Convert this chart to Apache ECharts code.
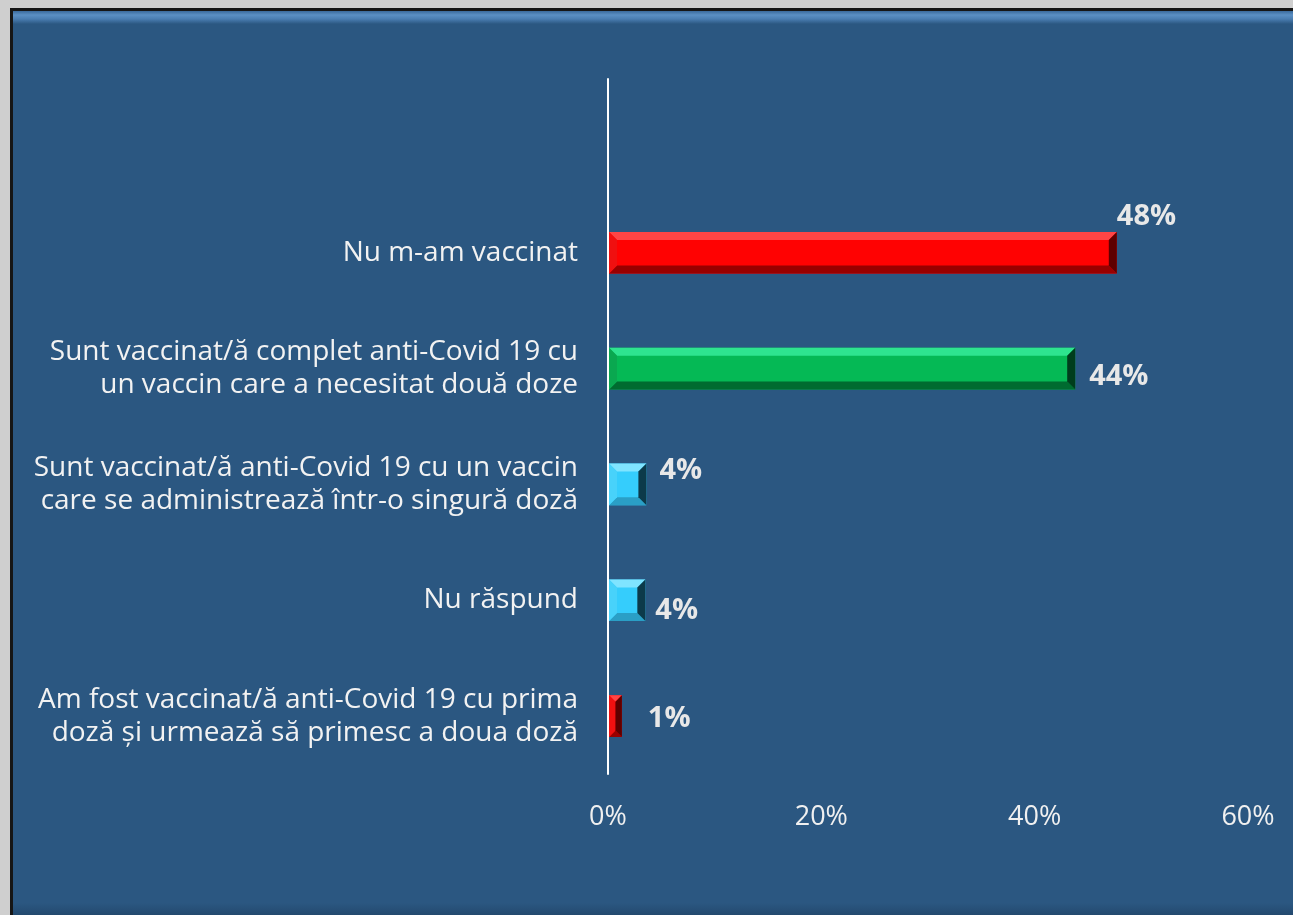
<!DOCTYPE html>
<html>
<head>
<meta charset="utf-8">
<script src="https://cdn.jsdelivr.net/npm/echarts@6/dist/echarts.min.js"></script>
<style>
  html, body { margin:0; padding:0; width:1293px; height:915px; overflow:hidden; background:#cfcfcf; }
  #panel { position:absolute; left:10px; top:8px; width:1280px; height:904px;
    border-left:3px solid #161616; border-top:3px solid #161616;
    background: linear-gradient(to bottom, #3a6a9c 0px, #5b8fc3 4px, #4a7db1 8px, #2b5781 13px, #2b5781 calc(100% - 12px), #23496e 100%);
  }
  #chart { position:absolute; left:0; top:0; width:1293px; height:915px; }
</style>
</head>
<body>
<div id="panel"></div>
<div id="chart"></div>
<script>
// Top-to-bottom order (first entry is the blank top row of the chart)
const categories = [
  "",
  "Nu m-am vaccinat",
  "Sunt vaccinat/ă complet anti-Covid 19 cu\nun vaccin care a necesitat două doze",
  "Sunt vaccinat/ă anti-Covid 19 cu un vaccin\ncare se administrează într-o singură doză",
  "Nu răspund",
  "Am fost vaccinat/ă anti-Covid 19 cu prima\ndoză și urmează să primesc a doua doză"
];
const values = [null, 47.7, 43.8, 3.6, 3.5, 1.3];
const barColorKeys = [null, "red", "green", "blue", "blue", "red"];
const xTicks = [0, 20, 40, 60];

// label nudges (pixels) relative to the bar end, per row
const labelOffsets = [null, [0, -36], [14, 8], [13, -14], [10, 10], [26, 3]];

const palettes = {
  red:   { face:"#ff0202", top:"#ff4545", bottom:"#990000", left:"#f01010", right:"#5e0000" },
  green: { face:"#05b955", top:"#2ee48f", bottom:"#006b30", left:"#0aa850", right:"#003d1c" },
  blue:  { face:"#35cdfc", top:"#80e4ff", bottom:"#2a9fc6", left:"#48d2fa", right:"#0c3a4a" }
};

const chart = echarts.init(document.getElementById('chart'), null, { renderer: 'canvas' });

const data = values.map((v, i) => (v == null ? null : [v, i]));

function renderItem(params, api) {
  const idx = params.dataIndex;
  const v = api.value(0);
  const c = api.value(1);
  if (v == null || isNaN(v)) return null;
  const p0 = api.coord([0, c]);
  const p1 = api.coord([v, c]);
  const band = api.size([0, 1])[1];
  const h = band * 0.36;
  const x0 = p0[0] + 1, x1 = p1[0];
  const y0 = p0[1] - h / 2, y1 = p0[1] + h / 2;
  const w = x1 - x0;
  const b = Math.min(8, w / 2, h / 2);
  const pal = palettes[barColorKeys[idx]];
  const off = labelOffsets[idx] || [8, 0];
  return {
    type: 'group',
    children: [
      { type: 'rect', shape: { x: x0, y: y0, width: w, height: h }, style: { fill: pal.face } },
      { type: 'polygon', shape: { points: [[x0, y0], [x1, y0], [x1 - b, y0 + b], [x0 + b, y0 + b]] }, style: { fill: pal.top } },
      { type: 'polygon', shape: { points: [[x0, y1], [x1, y1], [x1 - b, y1 - b], [x0 + b, y1 - b]] }, style: { fill: pal.bottom } },
      { type: 'polygon', shape: { points: [[x0, y0], [x0 + b, y0 + b], [x0 + b, y1 - b], [x0, y1]] }, style: { fill: pal.left } },
      { type: 'polygon', shape: { points: [[x1, y0], [x1 - b, y0 + b], [x1 - b, y1 - b], [x1, y1]] }, style: { fill: pal.right } },
      { type: 'text', x: x1 + off[0], y: p0[1] + off[1],
        style: { text: Math.round(v) + '%', fill: '#e8e8e8', font: 'bold 29px "Open Sans"', textAlign: 'left', textVerticalAlign: 'middle' } }
    ]
  };
}

chart.setOption({
  backgroundColor: 'transparent',
  animation: false,
  grid: { left: 608, right: 45, top: 79, bottom: 141, containLabel: false },
  xAxis: {
    type: 'value', min: xTicks[0], max: xTicks[xTicks.length - 1], interval: 20,
    axisLine: { show: false }, axisTick: { show: false }, splitLine: { show: false },
    axisLabel: { color: '#f0f0f0', fontFamily: 'Open Sans', fontSize: 27, margin: 30, formatter: v => v + '%' }
  },
  yAxis: {
    type: 'category', data: categories, inverse: true,
    axisLine: { show: true, lineStyle: { color: '#ffffff', width: 2 } },
    axisTick: { show: false },
    axisLabel: { color: '#f2f2f2', fontFamily: 'Open Sans', fontSize: 28, lineHeight: 33, margin: 30, align: 'right' }
  },
  series: [{
    type: 'custom',
    renderItem: renderItem,
    encode: { x: 0, y: 1 },
    data: data,
    clip: false
  }]
});
</script>
</body>
</html>
